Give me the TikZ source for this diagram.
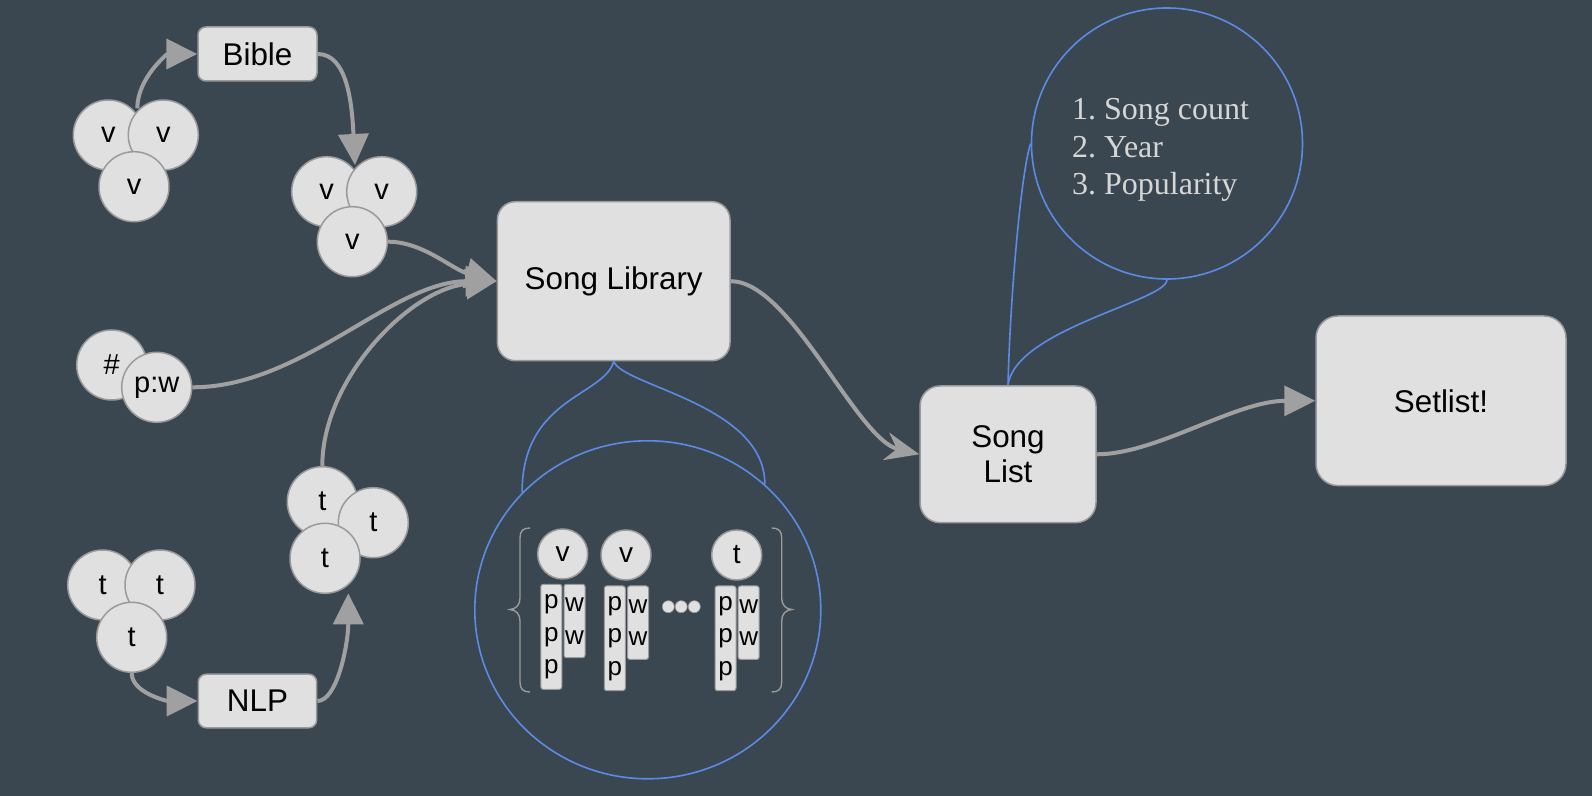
\documentclass[tikz,border=0pt]{standalone}
\usepackage{fontspec}
\setmainfont{Liberation Sans}
\newfontfamily\listfont{Liberation Serif}
\usetikzlibrary{arrows.meta,shapes.geometric}
\definecolor{bg}{RGB}{59,71,80}
\definecolor{boxfill}{HTML}{E0E0E0}
\definecolor{boxline}{HTML}{9A9A9A}
\definecolor{arr}{HTML}{A0A0A0}
\definecolor{blu}{HTML}{5A8BE6}
\definecolor{ltxt}{HTML}{D6D6D6}
\frenchspacing
\begin{document}
\begin{tikzpicture}[x=0.5pt,y=-0.5pt,
  bbox/.style={draw=boxline, fill=boxfill, line width=0.75pt, text=black, inner sep=0pt, align=center, font=\fontsize{15.7}{17.5}\selectfont},
  circ/.style={circle, draw=boxline, fill=boxfill, line width=0.75pt, minimum size=35pt, inner sep=0pt, text=black, font=\fontsize{14.5}{16}\selectfont},
  smallcirc/.style={circle, draw=boxline, fill=boxfill, line width=0.75pt, minimum size=25pt, inner sep=0pt, text=black, font=\fontsize{14}{16}\selectfont},
  tokbox/.style={draw=boxline, fill=boxfill, line width=0.5pt, rounded corners=1.2pt, minimum width=10.5pt, inner sep=0pt, align=center, text=black, font=\fontsize{13}{16.25}\selectfont},
  flow/.style={draw=arr, line width=2pt, -{Triangle[length=15.5pt,width=15pt]}},
  sflow/.style={draw=arr, line width=2pt, -{Stealth[length=17pt,width=14pt,inset=5.5pt]}},
  note/.style={draw=blu, line width=0.8pt},
  bracestyle/.style={draw=boxline, line width=0.7pt},
  dotstyle/.style={circle, fill=boxfill, draw=boxline, line width=0.3pt, minimum size=6pt, inner sep=0pt}
]
\fill[bg] (0,0) rectangle (1592,796);
\useasboundingbox (0,0) rectangle (1592,796);

% boxes
\node[bbox, minimum width=59.5pt, minimum height=27pt, rounded corners=4pt] (bible) at (257.5,54) {Bible};
\node[bbox, minimum width=59.2pt, minimum height=26.8pt, rounded corners=4pt] (nlp) at (257.5,701) {NLP};
\node[bbox, minimum width=116.3pt, minimum height=79.5pt, rounded corners=9pt] (lib) at (613.7,281.2) {Song Library};
\node[bbox, minimum width=88pt, minimum height=68.3pt, rounded corners=10pt] (slist) at (1008,454.3) {Song\\List};
\node[bbox, minimum width=125pt, minimum height=84.8pt, rounded corners=11pt] (setlist) at (1441,400.8) {Setlist!};

% clusters
\node[circ] (v1a) at (108.3,135) {v};
\node[circ] (v1b) at (163.3,135) {v};
\node[circ] (v1c) at (134,186.7) {v};
\node[circ] (v2a) at (326.7,191.7) {v};
\node[circ] (v2b) at (381.7,191.7) {v};
\node[circ] (v2c) at (352.3,241.7) {v};
\node[circ] (hash) at (111.7,365) {\#};
\node[circ] (pw) at (156.7,387.3) {p:w};
\node[circ] (t2a) at (322.3,501.7) {t};
\node[circ] (t2b) at (373.3,522.7) {t};
\node[circ] (t2c) at (325,558.3) {t};
\node[circ] (t1a) at (102.7,585) {t};
\node[circ] (t1b) at (160,585) {t};
\node[circ] (t1c) at (131.7,637.3) {t};

\coordinate (c1top) at (137.3,108.3);
\coordinate (c2top) at (355,165);
\coordinate (t2bot) at (348.3,593.3);

% flow connectors
\draw[flow] (c1top) .. controls +(0,-30) and +(-30,0) .. (bible.west);
\draw[flow] (bible.east) .. controls +(30,0) and +(-3,-60) .. (c2top);
\draw[flow] (v2c.east) .. controls +(35,0) and +(-45,-12) .. (lib.west);
\draw[flow] (pw.east) .. controls +(110,0) and +(-105,0) .. (lib.west);
\draw[flow] (t2a.north) .. controls +(0,-87) and +(-87,8) .. (lib.west);
\draw[flow] (t1c.south) .. controls +(0,20) and +(-30,0) .. (nlp.west);
\draw[flow] (nlp.east) .. controls +(20,0) and +(0,50) .. (t2bot);
\draw[sflow] (lib.east) .. controls +(60,0) and +(-63,-15) .. (slist.west);
\draw[flow] (slist.east) .. controls +(60,0) and +(-80,0) .. (setlist.west);

% song library detail
\node[ellipse, note, minimum width=173pt, minimum height=169pt, inner sep=0pt] (bigc) at (647.8,609.8) {};
\draw[note] (lib.south) .. controls +(-10,35) and +(0,-95) .. (bigc.137.8);
\draw[note] (lib.south) .. controls +(10,25) and +(0,-80) .. (bigc.47);

\draw[bracestyle] (530,528) .. controls (523,528) and (520,531) .. (520,538) -- (520,598) .. controls (520,605) and (516,609) .. (510,609.5) .. controls (516,610) and (520,614) .. (520,621) -- (520,682) .. controls (520,689) and (523,692) .. (530,692);
\draw[bracestyle] (771.7,528) .. controls (778.7,528) and (781.7,531) .. (781.7,538) -- (781.7,598) .. controls (781.7,605) and (785.7,609) .. (791.7,609.5) .. controls (785.7,610) and (781.7,614) .. (781.7,621) -- (781.7,682) .. controls (781.7,689) and (778.7,692) .. (771.7,692);

\node[smallcirc] (s1) at (562.7,554) {v};
\node[smallcirc] (s2) at (626,555) {v};
\node[smallcirc] (s3) at (736.7,555) {t};

\node[tokbox, minimum height=52.5pt] (p1) at (551.3,636.8) {p\\p\\p};
\node[tokbox, minimum height=36.7pt] (w1) at (574.5,621) {w\\w};
\node[tokbox, minimum height=52.3pt] (p2) at (614.8,638.3) {p\\p\\p};
\node[tokbox, minimum height=36.7pt] (w2) at (638,622.7) {w\\w};
\node[tokbox, minimum height=52.3pt] (p3) at (725.5,638.3) {p\\p\\p};
\node[tokbox, minimum height=36.7pt] (w3) at (748.7,622.7) {w\\w};

\node[dotstyle] (d1) at (668.3,606.7) {};
\node[dotstyle] (d2) at (681.2,606.7) {};
\node[dotstyle] (d3) at (694.3,606.7) {};

% criteria circle
\node[circle, note, minimum size=135.5pt, inner sep=0pt] (txtc) at (1167,143.5) {};
\node[anchor=west, align=left, text=ltxt, inner sep=0pt, font=\listfont\fontsize{16}{18.75}\selectfont] (crit) at (1071.7,150) {1. Song count\\2. Year\\3. Popularity};
\draw[note] (slist.north) .. controls +(2,-86) and +(-9.5,26.5) .. (txtc.west);
\draw[note] (slist.north) .. controls +(7,-56) and +(0,21) .. (txtc.south);
\end{tikzpicture}
\end{document}
